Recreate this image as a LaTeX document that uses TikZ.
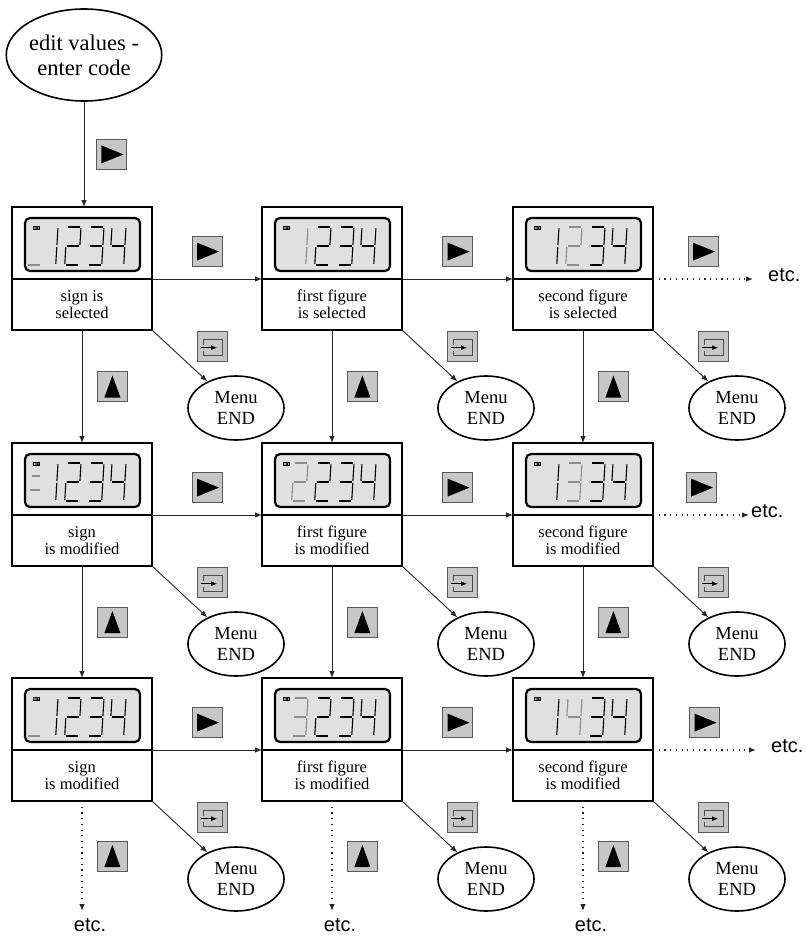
\documentclass[tikz,border=0pt]{standalone}
\usepackage{fontspec}
\setmainfont{Liberation Serif}
\newfontfamily\etcfont{Liberation Sans}
\usetikzlibrary{positioning,arrows.meta,shapes.geometric}

% segments of one figure, as pairs of corners
\def\dBar{E/F}
\def\dEq{G/H,I/J}
\def\dOne{B/D,D/F}
\def\dTwo{A/B,B/D,C/D,C/E,E/F}
\def\dThree{A/B,B/D,C/D,D/F,E/F}
\def\dFour{A/C,C/D,B/D,D/F}

\newcommand{\seven}[3]{%
  \begin{scope}[shift={(#1,20)},xslant=0.06]
    \coordinate (A) at (0,0);  \coordinate (B) at (14,0);
    \coordinate (C) at (0,19); \coordinate (D) at (14,19);
    \coordinate (E) at (0,38); \coordinate (F) at (14,38);
    \coordinate (G) at (3,13); \coordinate (H) at (13,13);
    \coordinate (I) at (1,27); \coordinate (J) at (14,27);
    \foreach \p/\q in #2 {\draw[segment,#3] (\p) -- (\q);}
  \end{scope}}

\newcommand{\lcd}[2]{%
  \begin{scope}[shift={(#1.north west)}]
    \draw[lcdframe] (13,11) rectangle (128,64);
    \node[setbadge] (#1set) at (24.5,21) {SET};
    #2
  \end{scope}}

\begin{document}
\begin{tikzpicture}[x=1pt,y=-1pt,>={Latex[length=7pt,width=5.5pt]},
    box/.style={draw,line width=1.6pt,minimum width=140pt,inner sep=0pt,outer sep=0pt},
    screen/.style={box,minimum height=72pt},
    caption/.style={box,minimum height=51pt,align=center,font=\fontsize{16.5}{17}\selectfont},
    menu/.style={ellipse,draw,line width=1.6pt,minimum width=96pt,minimum height=64pt,
                 inner sep=0pt,align=center,font=\fontsize{18.5}{21.5}\selectfont},
    start/.style={menu,minimum width=135pt,minimum height=92pt,font=\fontsize{22.5}{25}\selectfont},
    lcdframe/.style={draw,line width=2.2pt,fill=black!12,rounded corners=5pt},
    setbadge/.style={fill=black,text=white,inner sep=0.6pt,font=\fontsize{3}{3}\sffamily\bfseries},
    segment/.style={line width=1.1pt,shorten <=1.2pt,shorten >=1.2pt},
    lit/.style={black},
    dim/.style={black!45},
    link/.style={->,draw=black!85,line width=0.9pt},
    dots/.style={link,line width=1.2pt,dash pattern=on 1.2pt off 4.5pt},
    etc/.style={font=\etcfont\fontsize{20}{24}\selectfont,inner sep=0pt},
    btn/.style={draw=black!65,fill=black!22,solid,minimum size=30pt,inner sep=0pt,line width=0.8pt},
    rbtn/.style={btn,path picture={
      \fill[black,shift={(path picture bounding box.center)}] (-10,-9) -- (12,0) -- (-10,9) -- cycle;}},
    ubtn/.style={btn,path picture={
      \fill[black,shift={(path picture bounding box.center)}] (0,-11) -- (8,11) -- (-8,11) -- cycle;}},
    ebtn/.style={btn,path picture={
      \draw[-,black!70,line width=0.8pt,shift={(path picture bounding box.center)}]
        (-9,-2) -- (-9,-7) -- (10,-7) -- (10,9) -- (-9,9) -- (-9,4);
      \draw[black,line width=0.9pt,-{Latex[length=6pt,width=5pt]},
        shift={(path picture bounding box.center)}] (-11,1) -- (5,1);}}]
\useasboundingbox (0,0) rectangle (806,937);

\node[start] (edit) at (84,55) {edit values -\\enter code};

% boxes
\node[screen] (s11) at (82,243) {};
\node[caption,below=0pt of s11] (t11) {sign is\\selected};
\node[screen,right=110pt of s11] (s12) {};
\node[caption,below=0pt of s12] (t12) {first figure\\is selected};
\node[screen,right=111pt of s12] (s13) {};
\node[caption,below=0pt of s13] (t13) {second figure\\is selected};

\node[screen,below=113pt of t11] (s21) {};
\node[caption,below=0pt of s21] (t21) {sign\\is modified};
\node[screen,below=113pt of t12] (s22) {};
\node[caption,below=0pt of s22] (t22) {first figure\\is modified};
\node[screen,below=113pt of t13] (s23) {};
\node[caption,below=0pt of s23] (t23) {second figure\\is modified};

\node[screen,below=112pt of t21] (s31) {};
\node[caption,below=0pt of s31] (t31) {sign\\is modified};
\node[screen,below=112pt of t22] (s32) {};
\node[caption,below=0pt of s32] (t32) {first figure\\is modified};
\node[screen,below=112pt of t23] (s33) {};
\node[caption,below=0pt of s33] (t33) {second figure\\is modified};

% displays
\lcd{s11}{\seven{17}{\dBar}{dim}\seven{32}{\dOne}{lit}\seven{55}{\dTwo}{lit}\seven{78}{\dThree}{lit}\seven{100}{\dFour}{lit}}
\lcd{s12}{\seven{32}{\dOne}{dim}\seven{55}{\dTwo}{lit}\seven{78}{\dThree}{lit}\seven{100}{\dFour}{lit}}
\lcd{s13}{\seven{32}{\dOne}{lit}\seven{55}{\dTwo}{dim}\seven{78}{\dThree}{lit}\seven{100}{\dFour}{lit}}
\lcd{s21}{\seven{17}{\dEq}{dim}\seven{32}{\dOne}{lit}\seven{55}{\dTwo}{lit}\seven{78}{\dThree}{lit}\seven{100}{\dFour}{lit}}
\lcd{s22}{\seven{32}{\dTwo}{dim}\seven{55}{\dTwo}{lit}\seven{78}{\dThree}{lit}\seven{100}{\dFour}{lit}}
\lcd{s23}{\seven{32}{\dOne}{lit}\seven{55}{\dThree}{dim}\seven{78}{\dThree}{lit}\seven{100}{\dFour}{lit}}
\lcd{s31}{\seven{17}{\dBar}{dim}\seven{32}{\dOne}{lit}\seven{55}{\dTwo}{lit}\seven{78}{\dThree}{lit}\seven{100}{\dFour}{lit}}
\lcd{s32}{\seven{32}{\dThree}{dim}\seven{55}{\dTwo}{lit}\seven{78}{\dThree}{lit}\seven{100}{\dFour}{lit}}
\lcd{s33}{\seven{32}{\dOne}{lit}\seven{55}{\dFour}{dim}\seven{78}{\dThree}{lit}\seven{100}{\dFour}{lit}}

% menu end
\foreach \r in {1,2,3}{
  \foreach \c in {1,2,3}{
    \node[menu,xshift=84pt,yshift=-78pt] (m\r\c) at (t\r\c.south east) {Menu\\END};
    \draw[link] (t\r\c.south east) -- node[ebtn,right=17pt,yshift=9pt] (e\r\c) {} (m\r\c);
  }
}

% connectors
\draw[link] (edit.south) -- node[rbtn,right=12pt] (r00) {} (edit.south |- s11.north);
\foreach \r in {1,2,3}{
  \draw[link] (t\r1.north east) -- node[rbtn,above=12pt] (r\r1) {} (t\r2.north west);
  \draw[link] (t\r2.north east) -- node[rbtn,above=12pt] (r\r2) {} (t\r3.north west);
}
\foreach \a/\b in {1/2,2/3}{
  \foreach \c in {1,2,3}{
    \draw[link] (t\a\c.south) -- node[ubtn,right=15pt] (u\a\c) {} (s\b\c.north);
  }
}

% etc.
\coordinate[right=100pt of t13.north east] (z13);
\coordinate[right=96pt of t23.north east] (z23);
\coordinate[right=103pt of t33.north east] (z33);
\node[etc,right=15pt of z13,anchor=mid west] (x13) {etc.};
\node[etc,right=2pt of z23,anchor=mid west] (x23) {etc.};
\node[etc,right=15pt of z33,anchor=mid west] (x33) {etc.};
\foreach \r in {1,2,3}{
  \draw[dots] (t\r3.north east) -- node[rbtn,above=12pt] (r\r3) {} (z\r3);
}
\foreach \c in {1,2,3}{
  \coordinate[below=110pt of t3\c] (z3\c b);
  \node[etc,below=7pt of z3\c b,xshift=8pt] (y3\c) {etc.};
  \draw[dots] (t3\c.south) -- node[ubtn,right=15pt] (u3\c) {} (z3\c b);
}
\end{tikzpicture}
\end{document}
